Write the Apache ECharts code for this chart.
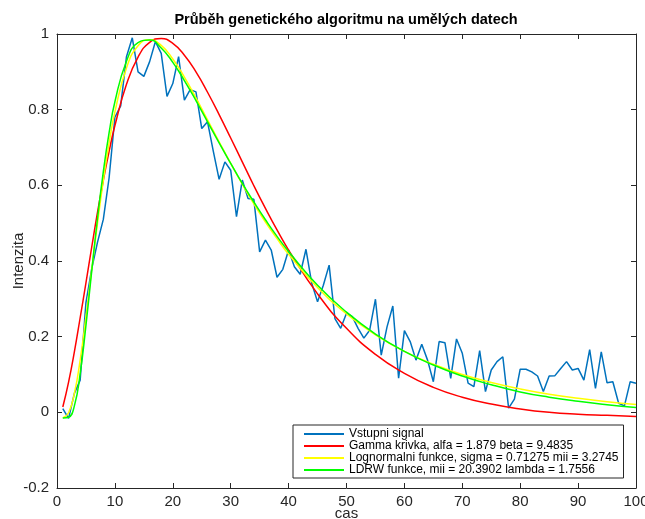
<!DOCTYPE html>
<html>
<head>
<meta charset="utf-8">
<script src="https://cdn.jsdelivr.net/npm/echarts@6/dist/echarts.min.js"></script>
<style>html,body{margin:0;padding:0;background:#fff;}#c{width:645px;height:519px;}</style>
</head>
<body>
<div id="c"></div>
<script>
// Input signal, sampled at cas = 1..100
const signal = [0.01,-0.016,0.05,0.085,0.29,0.38,0.45,0.51,0.62,0.78,
0.81,0.94,0.99,0.90,0.888,0.927,0.98,0.949,0.835,0.869,
0.94,0.825,0.853,0.847,0.75,0.768,0.69,0.616,0.662,0.64,
0.517,0.614,0.565,0.563,0.424,0.455,0.429,0.357,0.378,0.429,
0.385,0.365,0.431,0.341,0.292,0.336,0.389,0.248,0.222,0.262,
0.253,0.222,0.196,0.217,0.299,0.151,0.226,0.281,0.09,0.216,
0.187,0.138,0.18,0.138,0.081,0.187,0.184,0.09,0.194,0.156,
0.077,0.068,0.163,0.055,0.112,0.134,0.147,0.011,0.035,0.114,
0.114,0.107,0.096,0.055,0.096,0.097,0.116,0.134,0.112,0.116,
0.085,0.166,0.063,0.16,0.078,0.081,0.024,0.017,0.081,0.077];

// Sample positions for the fitted curves
const tCurve = [1,2,3,4,5,6,7,8,9,10,12,14,16,18,20,22,24,26,28,30,32,34,36,38,40,45,50,55,60,65,70,75,80,85,90,95,100];
const gammaCurve = [0.014,0.08,0.16,0.25,0.342,0.437,0.529,0.613,0.69,0.758,0.867,0.939,0.978,0.988,0.975,0.944,0.90,0.846,0.787,0.725,0.662,0.599,0.539,0.482,0.429,0.313,0.222,0.153,0.103,0.066,0.04,0.022,0.009,0.0,-0.005,-0.008,-0.011];
const lognormCurve = [-0.015,-0.001,0.05,0.138,0.253,0.378,0.5,0.613,0.712,0.794,0.91,0.969,0.985,0.97,0.934,0.886,0.831,0.773,0.715,0.658,0.603,0.551,0.503,0.459,0.418,0.33,0.26,0.205,0.161,0.127,0.1,0.079,0.062,0.048,0.037,0.028,0.021];
const ldrwCurve = [-0.015,-0.013,0.017,0.102,0.23,0.374,0.513,0.636,0.739,0.821,0.928,0.977,0.984,0.963,0.925,0.877,0.824,0.768,0.712,0.658,0.605,0.556,0.509,0.465,0.425,0.336,0.265,0.207,0.161,0.125,0.096,0.073,0.054,0.04,0.029,0.02,0.0125];

const seriesNames = ['Vstupni signal','Gamma krivka, alfa = 1.879 beta = 9.4835','Lognormalni funkce, sigma = 0.71275 mii = 3.2745','LDRW funkce, mii = 20.3902 lambda = 1.7556'];
const seriesColors = ['#0072BD','#FF0000','#FFFF00','#00FF00'];
const xTicks = {min:0, max:100, interval:10};
const yTicks = {min:-0.2, max:1, interval:0.2};

const FONT = '"Liberation Sans", Arial, Helvetica, sans-serif';
const AX = '#262626';

const chart = echarts.init(document.getElementById('c'), null, {renderer:'canvas'});
const pair = (ts, vs) => vs.map((v,i)=>[ts[i], v]);
const sigData = signal.map((v,i)=>[i+1, v]);

const baseAxis = {
  axisLine:{show:true, onZero:false, lineStyle:{color:AX, width:1}},
  axisTick:{show:true, inside:true, length:5, lineStyle:{color:AX}},
  splitLine:{show:false}
};
const curve = (idx, data) => ({name:seriesNames[idx], type:'line', data:data, symbol:'none', showSymbol:false,
  smooth:0.5, lineStyle:{color:seriesColors[idx], width:1.5}, itemStyle:{color:seriesColors[idx]}});

chart.setOption({
  animation:false,
  backgroundColor:'#fff',
  title:{
    text:'Průběh genetického algoritmu na umělých datech',
    left:346, top:12, textAlign:'center', padding:0,
    textStyle:{fontFamily:FONT, fontSize:14.5, fontWeight:'bold', color:'#000'}
  },
  grid:{left:57, right:9, top:34, bottom:31, containLabel:false, outerBoundsMode:'none'},
  legend:{
    orient:'vertical', left:293, top:425,
    padding:[3,5,2,11], itemGap:0, itemWidth:40, itemHeight:2, icon:'rect',
    backgroundColor:'#fff', borderColor:AX, borderWidth:1,
    textStyle:{fontFamily:FONT, fontSize:12, lineHeight:11, color:'#000'},
    data:seriesNames
  },
  xAxis:[
    Object.assign({}, baseAxis, {type:'value', position:'bottom', min:xTicks.min, max:xTicks.max, interval:xTicks.interval,
      name:'cas', nameLocation:'middle', nameGap:18, nameMoveOverlap:false,
      nameTextStyle:{fontFamily:FONT, fontSize:15, color:AX},
      axisLabel:{fontFamily:FONT, fontSize:15, color:AX, margin:6}}),
    Object.assign({}, baseAxis, {type:'value', position:'top', min:xTicks.min, max:xTicks.max, interval:xTicks.interval,
      axisLabel:{show:false}})
  ],
  yAxis:[
    Object.assign({}, baseAxis, {type:'value', position:'left', min:yTicks.min, max:yTicks.max, interval:yTicks.interval,
      name:'Intenzita', nameLocation:'middle', nameGap:31, nameRotate:90, nameMoveOverlap:false,
      nameTextStyle:{fontFamily:FONT, fontSize:15, color:AX},
      axisLabel:{fontFamily:FONT, fontSize:15, color:AX, margin:8,
        formatter:v=>String(Math.round(v*10)/10)}}),
    Object.assign({}, baseAxis, {type:'value', position:'right', min:yTicks.min, max:yTicks.max, interval:yTicks.interval,
      axisLabel:{show:false}})
  ],
  series:[
    {name:seriesNames[0], type:'line', data:sigData, symbol:'none', showSymbol:false, lineStyle:{color:seriesColors[0], width:1.5}, itemStyle:{color:seriesColors[0]}},
    curve(1, pair(tCurve,gammaCurve)),
    curve(2, pair(tCurve,lognormCurve)),
    curve(3, pair(tCurve,ldrwCurve))
  ]
});
</script>
</body>
</html>
